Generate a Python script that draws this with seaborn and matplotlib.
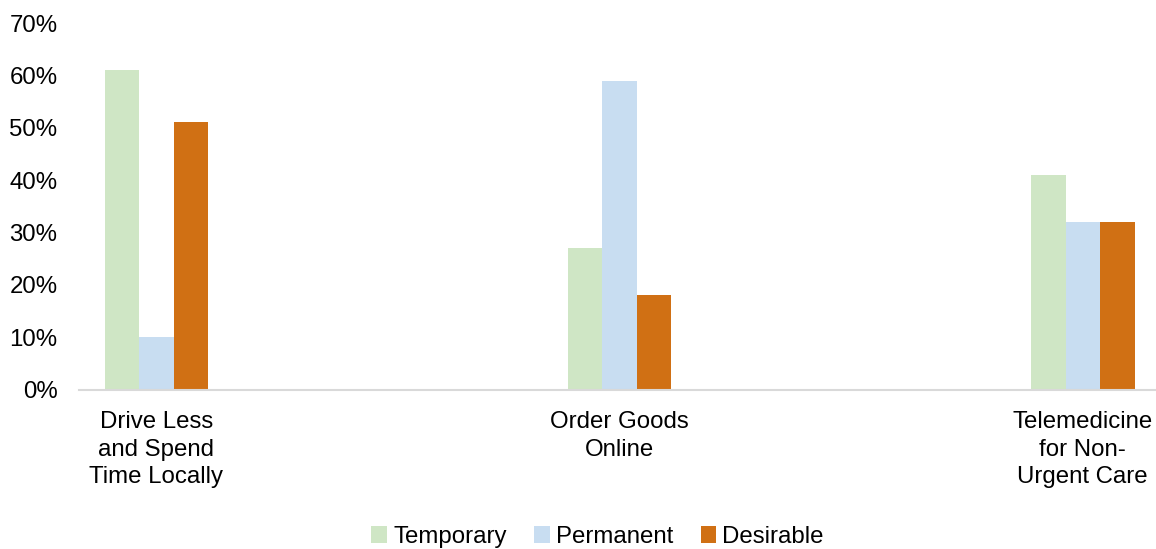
import matplotlib
matplotlib.use("Agg")
import matplotlib.pyplot as plt
import seaborn as sns
import pandas as pd
from matplotlib.patches import Patch

categories = ["Drive Less\nand Spend\nTime Locally", "Order Goods\nOnline", "Telemedicine\nfor Non-\nUrgent Care"]
series = ["Temporary", "Permanent", "Desirable"]
temporary = [61, 27, 41]
permanent = [10, 59, 32]
desirable = [51, 18, 32]
yticks = [0, 10, 20, 30, 40, 50, 60, 70]
colors = ["#cfe6c5", "#c8ddf1", "#d07014"]

rows = []
for name, vals in zip(series, [temporary, permanent, desirable]):
    for c, v in zip(categories, vals):
        rows.append({"category": c, "series": name, "value": v})
df = pd.DataFrame(rows)

sns.set_theme(style="white")
plt.rcParams["font.family"] = ["Liberation Sans", "DejaVu Sans"]
plt.rcParams["text.color"] = "black"

fig = plt.figure(figsize=(11.56, 5.49), dpi=100)
ax = fig.add_axes([79 / 1156, 159.5 / 549, 1 - 79 / 1156, 366.5 / 549])

sns.barplot(data=df, x="category", y="value", hue="series", order=categories,
            hue_order=series, palette=colors, width=0.2235, linewidth=0,
            saturation=1, ax=ax, legend=False)

ax.set_xlim(-0.167, 2.158)
ax.set_ylim(0, 70)
ax.set_yticks(yticks)
ax.set_yticklabels([f"{t}%" for t in yticks], fontsize=17.3, color="#000000")
ax.tick_params(axis="y", length=0, pad=15.5)
ax.tick_params(axis="x", length=0, pad=15.5, labelsize=17.3, labelcolor="#000000")
ax.set_xlabel("")
ax.set_ylabel("")
for s in ["top", "right", "left"]:
    ax.spines[s].set_visible(False)
ax.spines["bottom"].set_color("#d9d9d9")
ax.spines["bottom"].set_linewidth(1.5)
for lbl in ax.get_xticklabels():
    lbl.set_linespacing(1.33)

handles = [Patch(facecolor=c, edgecolor="none", label=s) for c, s in zip(colors, series)]
fig.legend(handles=handles, loc="center", bbox_to_anchor=(0.517, 0.022), ncol=3,
           frameon=False, fontsize=17.3, handlelength=0.65, handleheight=0.65,
           handletextpad=0.25, columnspacing=1.15, labelcolor="black")

fig.savefig("out.png", dpi=100)
